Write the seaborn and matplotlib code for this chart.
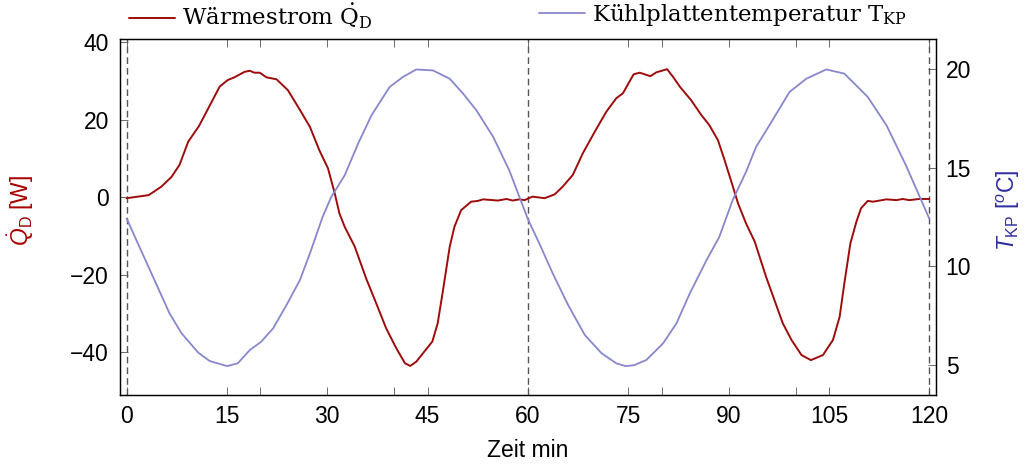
import matplotlib
matplotlib.use("Agg")
import matplotlib.pyplot as plt
from matplotlib.lines import Line2D
from matplotlib.ticker import FixedLocator
import pandas as pd
import seaborn as sns

# Heat flow Q_D over time (min, W)
t_q = [0, 3.3, 5.2, 6.7, 7.9, 9.2, 10.8, 12.2, 13.9, 15.1,
       16.1, 17.6, 18.4, 19.1, 19.9, 20.9, 22.4, 24.1, 25.9, 27.4,
       28.8, 30.1, 31.1, 31.8, 32.6, 34.1, 35.8, 37.3, 38.8, 40.3,
       41.6, 42.4, 43.3, 44.5, 45.7, 46.5, 47.3, 48.3, 49.0, 50.0,
       51.5, 52.5, 53.3, 55.5, 56.8, 57.7, 58.7, 59.5, 60.1,
       60.7, 62.5, 64.0, 65.2, 66.7, 68.2, 70.0, 71.7, 73.2, 74.2,
       75.8, 76.7, 78.3, 79.2, 80.8, 81.7, 82.7, 84.4, 85.9, 87.1,
       88.4, 89.4, 90.4, 91.4, 92.6, 93.9, 95.6, 98.1, 99.4, 100.9,
       102.3, 104.1, 105.6, 106.6, 107.3, 108.2, 109.1, 109.8, 110.8, 111.6,
       113.6, 115.1, 116.0, 117.0, 118.5, 120.0]
q_d = [-0.3, 0.5, 2.7, 5.2, 8.3, 14.3, 18.3, 22.9, 28.5, 30.2,
       30.9, 32.3, 32.6, 32.1, 32.1, 30.9, 30.4, 27.6, 22.5, 18.1,
       12.1, 7.4, 1.0, -4.2, -7.7, -12.8, -21.0, -27.4, -33.9, -39.0,
       -42.9, -43.6, -42.5, -39.9, -37.3, -32.6, -24.0, -12.8, -7.7, -3.4,
       -1.2, -1.0, -0.6, -0.9, -0.5, -0.9, -0.6, -0.8, -0.3,
       0.1, -0.3, 0.7, 2.7, 5.7, 11.3, 16.9, 22.0, 25.5, 26.8,
       31.7, 32.1, 31.2, 32.2, 33.0, 31.0, 28.5, 25.0, 21.2, 18.6,
       14.7, 9.5, 4.0, -1.6, -6.8, -11.5, -20.6, -32.6, -36.9, -40.8,
       -42.1, -40.8, -36.9, -30.9, -22.3, -12.0, -6.4, -2.9, -1.0, -1.2,
       -0.6, -0.8, -0.5, -0.8, -0.5, -0.5]

# Cooling plate temperature T_KP over time (min, degC)
t_kp = [0, 1.45, 3.7, 6.4, 8.2, 10.7, 12.4, 15.0, 16.6, 18.4,
        20.1, 21.9, 23.9, 25.9, 27.4, 29.3, 30.6, 32.6, 34.6, 36.6,
        39.3, 41.3, 43.3, 45.8, 48.3, 50.3, 52.3, 54.8, 57.2, 60.0,
        61.7, 63.7, 66.0, 68.5, 71.0, 73.2, 74.6, 75.9, 77.7, 80.2,
        82.2, 84.2, 86.7, 88.6, 90.6, 92.6, 94.1, 96.1, 99.1, 101.6,
        104.6, 107.3, 110.8, 113.6, 116.5, 120.0]
temp_kp = [12.42, 11.33, 9.65, 7.63, 6.62, 5.64, 5.22, 4.96, 5.10, 5.77,
           6.19, 6.87, 8.05, 9.31, 10.66, 12.51, 13.52, 14.61, 16.21, 17.64,
           19.07, 19.58, 19.96, 19.91, 19.49, 18.74, 17.89, 16.55, 14.86, 12.38,
           11.16, 9.65, 8.05, 6.53, 5.61, 5.10, 4.96, 5.01, 5.27, 6.11,
           7.12, 8.64, 10.32, 11.49, 13.35, 14.78, 16.04, 17.14, 18.82, 19.49,
           19.96, 19.75, 18.57, 17.14, 15.12, 12.42]

period_marks = [0, 60, 120]
x_major = [0, 15, 30, 45, 60, 75, 90, 105, 120]
x_minor = [20, 40, 80, 100]
y_left_ticks = [-40, -20, 0, 20, 40]
y_right_ticks = [5, 10, 15, 20]

label_q = "Wärmestrom $\\dot{\\mathrm{Q}}_{\\mathrm{D}}$"
label_t = "Kühlplattentemperatur T$_{\\mathrm{KP}}$"

RED = "#9e0b0b"
BLUE = "#8787cc"
TICK = "#555555"

sns.set_style("ticks")
plt.rcParams["font.family"] = ["Liberation Sans", "DejaVu Sans"]
plt.rcParams["mathtext.fontset"] = "custom"
plt.rcParams["mathtext.rm"] = "Liberation Sans"
plt.rcParams["mathtext.it"] = "Liberation Sans:italic"
plt.rcParams["axes.linewidth"] = 0.9
plt.rcParams["axes.edgecolor"] = "black"
plt.rcParams["text.color"] = "black"
plt.rcParams["axes.labelcolor"] = "black"
plt.rcParams["xtick.labelcolor"] = "black"
plt.rcParams["ytick.labelcolor"] = "black"

fig, ax = plt.subplots(figsize=(10.3, 4.71), dpi=100)
fig.subplots_adjust(left=0.1165, right=0.9087, top=0.9172, bottom=0.1614)
ax2 = ax.twinx()

df_q = pd.DataFrame({"t": t_q, "q": q_d})
df_t = pd.DataFrame({"t": t_kp, "T": temp_kp})

for xv in period_marks:
    ax.axvline(xv, color=TICK, lw=1.0, linestyle=(0, (4.8, 2.9)), zorder=1)

sns.lineplot(data=df_q, x="t", y="q", ax=ax, color=RED, lw=1.4,
             estimator=None, sort=False, legend=False)
sns.lineplot(data=df_t, x="t", y="T", ax=ax2, color=BLUE, lw=1.3,
             estimator=None, sort=False, legend=False)

ax.set_xlim(-1.0, 121.0)
ax.set_ylim(-51.1, 40.8)
ax2.set_ylim(3.5, 21.5)

ax.xaxis.set_major_locator(FixedLocator(x_major))
ax.xaxis.set_minor_locator(FixedLocator(x_minor))
ax.yaxis.set_major_locator(FixedLocator(y_left_ticks))
ax2.yaxis.set_major_locator(FixedLocator(y_right_ticks))
ax.set_xticklabels([str(v) for v in x_major])
ax.set_yticklabels(["\u221240", "\u221220", "0", "20", "40"])
ax2.set_yticklabels([str(v) for v in y_right_ticks])

fs = 16.5
ax.tick_params(axis="x", which="both", direction="in", length=5.5, width=0.6,
               color=TICK, labelcolor="black", top=True, bottom=True,
               labelsize=fs, pad=7)
ax.tick_params(axis="y", which="both", direction="in", length=5.5, width=0.6,
               color=TICK, labelcolor="black", left=True, right=False,
               labelsize=fs, pad=8)
ax2.tick_params(axis="y", direction="in", length=5.5, width=0.6,
                color=TICK, labelcolor="black", right=True, left=False,
                labelsize=fs, pad=7)

ax.set_xlabel("Zeit min", fontsize=fs, labelpad=8, color="black")
ax.set_ylabel("$\\dot{Q}_{\\mathrm{D}}$ [W]", fontsize=fs, color="#a80000")
ax2.set_ylabel("$T_{\\mathrm{KP}}$ [$^{o}$C]", fontsize=fs, color="#2e2e9e",
               rotation=90)
ax.yaxis.set_label_coords(-0.103, 0.52)
ax2.yaxis.set_label_coords(1.072, 0.52)

for spine in list(ax.spines.values()) + list(ax2.spines.values()):
    spine.set_visible(True)
    spine.set_color("black")

legend_font = {"family": "DejaVu Serif", "size": 16.5}
h_q = Line2D([], [], color=RED, lw=1.4)
h_t = Line2D([], [], color=BLUE, lw=1.3)
for handle, text, x0 in [(h_q, label_q, 129), (h_t, label_t, 539)]:
    leg = fig.legend([handle], [text], loc="upper left",
                     bbox_to_anchor=(x0 / 1030, 1 - 2 / 471), frameon=False,
                     borderpad=0, borderaxespad=0, handlelength=2.0,
                     handletextpad=0.3, prop=legend_font)
    for txt in leg.get_texts():
        txt.set_math_fontfamily("dejavuserif")
        txt.set_color("black")

fig.savefig("out.png", dpi=100)
